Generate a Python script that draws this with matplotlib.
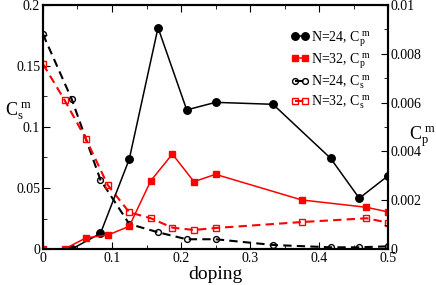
import matplotlib
matplotlib.use("Agg")
import matplotlib.pyplot as plt
from matplotlib.ticker import MultipleLocator

plt.rcParams["font.family"] = "Liberation Serif"
plt.rcParams["mathtext.fontset"] = "custom"
plt.rcParams["mathtext.rm"] = "Liberation Serif"
plt.rcParams["mathtext.it"] = "Liberation Serif"

# N=24, Cp^m (right axis)
x24_p = [0.0417, 0.0833, 0.125, 0.1667, 0.2083, 0.25, 0.3333, 0.4167, 0.4583, 0.5]
cp24 = [0.0, 0.00064, 0.00368, 0.00907, 0.0057, 0.00601, 0.00593, 0.00372, 0.00208, 0.0030]
# N=32, Cp^m (right axis)
x32 = [0.0, 0.03125, 0.0625, 0.09375, 0.125, 0.15625, 0.1875, 0.21875, 0.25, 0.375, 0.46875, 0.5]
cp32 = [0.0, 0.0, 0.00046, 0.00057, 0.00093, 0.0028, 0.00389, 0.00276, 0.00306, 0.00201, 0.00171, 0.00152]
# N=24, Cs^m (left axis)
x24_s = [0.0, 0.0417, 0.0833, 0.125, 0.1667, 0.2083, 0.25, 0.3333, 0.4167, 0.4583, 0.5]
cs24 = [0.176, 0.1227, 0.0566, 0.0205, 0.0137, 0.008, 0.008, 0.0033, 0.0014, 0.0014, 0.0022]
# N=32, Cs^m (left axis)
cs32 = [0.1516, 0.1221, 0.0899, 0.0525, 0.0301, 0.0252, 0.0175, 0.0156, 0.0172, 0.0221, 0.0252, 0.0216]

fig = plt.figure(figsize=(4.36, 2.85), dpi=100)
ax = fig.add_axes([0.0986, 0.1263, 0.7914, 0.8562])
ax2 = ax.twinx()

l3, = ax.plot(x24_s, cs24, color="black", ls=(0, (4, 2.5)), lw=1.5, marker="o",
              ms=4.2, mfc="none", mec="black", mew=1.0, label=r"N=24, C$_\mathrm{s}^{\ \mathrm{m}}$")
l4, = ax.plot(x32, cs32, color="red", ls=(0, (4, 2.5)), lw=1.5, marker="s",
              ms=4.2, mfc="none", mec="red", mew=1.0, label=r"N=32, C$_\mathrm{s}^{\ \mathrm{m}}$")
l1, = ax2.plot(x24_p, cp24, color="black", lw=1.1, marker="o", ms=5.4,
               label=r"N=24, C$_\mathrm{p}^{\ \mathrm{m}}$")
l2, = ax2.plot(x32, cp32, color="red", lw=1.1, marker="s", ms=4.8,
               label=r"N=32, C$_\mathrm{p}^{\ \mathrm{m}}$")

ax.set_xlim(0, 0.5)
ax.set_ylim(0, 0.2)
ax2.set_ylim(0, 0.01)

ax.xaxis.set_major_locator(MultipleLocator(0.1))
ax.xaxis.set_minor_locator(MultipleLocator(0.05))
ax.yaxis.set_major_locator(MultipleLocator(0.05))
ax.yaxis.set_minor_locator(MultipleLocator(0.025))
ax2.yaxis.set_major_locator(MultipleLocator(0.002))
ax2.yaxis.set_minor_locator(MultipleLocator(0.001))

ax.xaxis.set_major_formatter(plt.FuncFormatter(lambda v, p: f"{v:g}"))
ax.yaxis.set_major_formatter(plt.FuncFormatter(lambda v, p: f"{v:g}"))
ax2.yaxis.set_major_formatter(plt.FuncFormatter(lambda v, p: f"{v:g}"))

ax.tick_params(which="both", direction="in", top=True, labelsize=10, pad=2)
ax.tick_params(which="major", length=5)
ax.tick_params(which="minor", length=3)
ax2.tick_params(which="both", direction="in", labelsize=10, pad=2)
ax2.tick_params(which="major", length=5)
ax2.tick_params(which="minor", length=3)
for a in (ax, ax2):
    for s in a.spines.values():
        s.set_linewidth(1.5)

ax.set_xlabel("doping", fontsize=14, labelpad=1)
ax.set_ylabel(r"C$_\mathrm{s}^{\ \mathrm{m}}$", fontsize=13, rotation=0, labelpad=0)
ax.yaxis.set_label_coords(-0.07, 0.52)
ax2.set_ylabel(r"C$_\mathrm{p}^{\ \mathrm{m}}$", fontsize=13, rotation=0, labelpad=0)
ax2.yaxis.set_label_coords(1.1, 0.51)

ax2.legend(handles=[l1, l2, l3, l4], loc="upper right", frameon=False,
           fontsize=10, numpoints=2, handlelength=1.3, handletextpad=0.15,
           labelspacing=0.2, bbox_to_anchor=(0.975, 0.935), borderaxespad=0.2)

fig.savefig("out.png", dpi=100)
